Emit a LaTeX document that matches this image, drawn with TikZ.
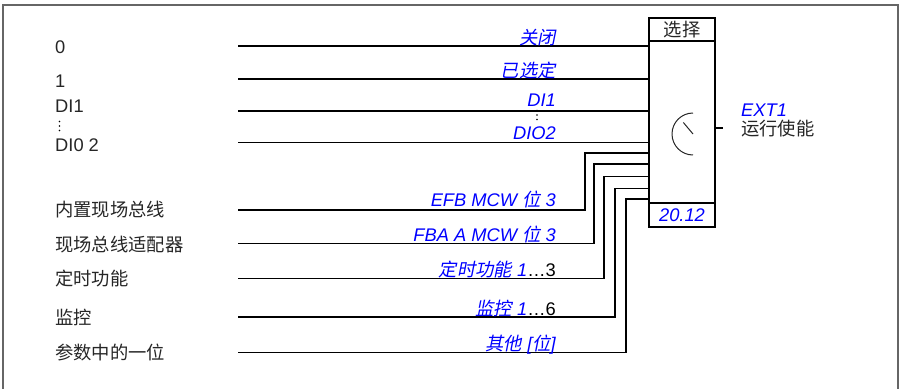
\documentclass[tikz,border=0pt]{standalone}
\usepackage{fontspec}
\setmainfont{Liberation Sans}
\newfontfamily\zhfont{Noto Sans CJK SC}
\newfontfamily\zhslant[FakeSlant=0.2]{Noto Sans CJK SC}
\newcommand{\zh}[1]{{\zhfont #1}}
\newcommand{\zhit}[1]{{\zhslant #1}}
\usetikzlibrary{positioning}

\begin{document}
\begin{tikzpicture}[
    x=1pt, y=-1pt,
    wire/.style={
        line width=1.8pt,
        black
    },
    source/.style={
        anchor=west,
        inner sep=0pt,
        text=black!85,
        font=\fontsize{18.3}{20}\selectfont
    },
    signal/.style={
        anchor=base east,
        inner sep=0pt,
        text=blue,
        font=\fontsize{18.3}{20}\selectfont\itshape
    },
    selbox/.style={
        rectangle,
        draw=black,
        line width=1.8pt,
        minimum width=66pt,
        outer sep=0pt,
        inner sep=0pt,
        font=\fontsize{18.3}{20}\selectfont
    },
    dial/.style={
        line width=1pt,
        black!85
    },
    dot/.style={
        circle,
        fill=black,
        inner sep=0pt,
        minimum size=1.8pt
    }
]

\useasboundingbox (0,0) rectangle (899,388);

% Rahmen
\draw[black!60, line width=1.2pt] (3,392) -- (3,5) -- (898,5) -- (898,392);

% Auswahlblock
\node[selbox, minimum height=23pt, text=black!85] (head) at (682,29.5) {\zh{选择}};
\node[selbox, minimum height=162pt, below=0pt of head] (body) {};
\node[selbox, minimum height=24pt, below=0pt of body, text=blue,
      font=\fontsize{18.3}{20}\selectfont\itshape] (par) {20.12};

\coordinate (c) at (693,134);
\draw[dial] (c) ++(90:21pt) arc[start angle=90, end angle=270, radius=21pt];
\draw[dial] (c) -- ++(130:15pt);

% Ausgang
\coordinate (out) at (723,128);
\draw[wire] (out -| body.east) -- (out);
\node[anchor=west, inner sep=0pt, text=blue,
      font=\fontsize{18.3}{20}\selectfont\itshape] (ext) at (741,110) {EXT1};
\node[source] (run) at (741,129) {\zh{运行使能}};

% Quellen links
\node[source] (s0) at (55,47) {0};
\node[source] (s1) at (55,81) {1};
\node[source] (sdi) at (55,106) {DI1};
\node[dot] (sd1) at (59.5,121.5) {};
\node[dot] (sd2) at (59.5,126) {};
\node[dot] (sd3) at (59.5,130.5) {};
\node[source] (sdio) at (55,145) {DI0 2};
\node[source] (sefb) at (55,210) {\zh{内置现场总线}};
\node[source] (sfba) at (55,244.5) {\zh{现场总线适配器}};
\node[source] (stim) at (55,279) {\zh{定时功能}};
\node[source] (ssup) at (55,317) {\zh{监控}};
\node[source] (sbit) at (55,353) {\zh{参数中的一位}};

% Leitungen
\coordinate (w0) at (238,46);
\coordinate (w1) at (238,79);
\coordinate (w2) at (238,111);
\coordinate (w3) at (238,142.5);
\coordinate (w4) at (238,210);
\coordinate (w5) at (238,243.5);
\coordinate (w6) at (238,278.5);
\coordinate (w7) at (238,317);
\coordinate (w8) at (238,352.5);

\draw[wire] (w0) -- (w0 -| body.west);
\draw[wire] (w1) -- (w1 -| body.west);
\draw[wire] (w2) -- (w2 -| body.west);
\draw[wire] (w3) -- (w3 -| body.west);
\draw[wire] (w4) -| (585,153) -- (body.west |- 585,153);
\draw[wire] (w5) -| (594,164) -- (body.west |- 594,164);
\draw[wire] (w6) -| (604,176.5) -- (body.west |- 604,176.5);
\draw[wire] (w7) -| (615,188.5) -- (body.west |- 615,188.5);
\draw[wire] (w8) -| (626,199) -- (body.west |- 626,199);

% Signalnamen
\node[signal] (l0) at (556,44.5) {\zhit{关闭}};
\node[signal] (l1) at (556,77) {\zhit{已选定}};
\node[signal] (ldi) at (556,106.5) {DI1};
\node[dot] (ld1) at (537,110.5) {};
\node[dot] (ld2) at (537,115) {};
\node[dot] (ld3) at (537,119.5) {};
\node[signal] (ldio) at (556,139) {DIO2};
\node[signal] (lefb) at (556,206) {EFB MCW \zhit{位} 3};
\node[signal] (lfba) at (556,241) {FBA A MCW \zhit{位} 3};
\node[signal] (ltim) at (556,276.5) {\zhit{定时功能} 1\textcolor{black}{\upshape …3}};
\node[signal] (lsup) at (556,315) {\zhit{监控} 1\textcolor{black}{\upshape …6}};
\node[signal] (lbit) at (556,350) {\zhit{其他} [\zhit{位}]};

\end{tikzpicture}
\end{document}
